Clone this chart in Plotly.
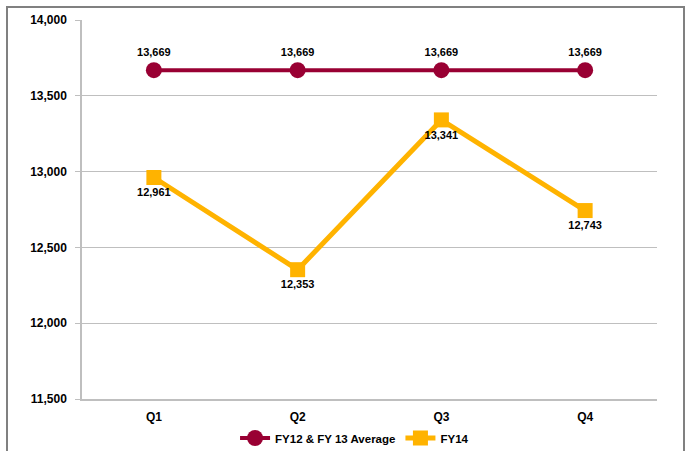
import plotly.graph_objects as go

quarters = ["Q1", "Q2", "Q3", "Q4"]
avg_vals = [13669, 13669, 13669, 13669]
fy14_vals = [12961, 12353, 13341, 12743]
y_ticks = [11500, 12000, 12500, 13000, 13500, 14000]

FONT = "Liberation Sans, Arial, sans-serif"
maroon = "#990033"
orange = "#FFB300"

fig = go.Figure()
fig.add_trace(go.Scatter(
    x=quarters, y=avg_vals, name="FY12 & FY 13 Average",
    mode="lines+markers+text",
    line=dict(color=maroon, width=4),
    marker=dict(symbol="circle", size=16, color=maroon),
    text=[f"{v:,}" for v in avg_vals], textposition="top center",
    textfont=dict(family=FONT, size=11, color="#000000", weight="bold"),
))
fig.add_trace(go.Scatter(
    x=quarters, y=fy14_vals, name="FY14",
    mode="lines+markers+text",
    line=dict(color=orange, width=5),
    marker=dict(symbol="square", size=15, color=orange),
    text=[f"{v:,}" for v in fy14_vals], textposition="bottom center",
    textfont=dict(family=FONT, size=11, color="#000000", weight="bold"),
))

fig.update_layout(
    width=692, height=451,
    margin=dict(l=82, r=35, t=20, b=52, autoexpand=False),
    paper_bgcolor="white", plot_bgcolor="white",
    font=dict(family=FONT, size=12, color="#000000"),
    showlegend=True,
    legend=dict(orientation="h", x=0.474, xanchor="center",
                yref="container", y=13 / 451, yanchor="middle",
                font=dict(family=FONT, size=11.5, color="#000000", weight="bold"),
                itemwidth=30),
    xaxis=dict(type="category", range=[-0.5, 3.5], showgrid=False,
               showline=True, linecolor="#BFBFBF", linewidth=1.5,
               tickfont=dict(family=FONT, size=12, weight="bold"),
               ticks="", ticklabelstandoff=6),
    yaxis=dict(range=[11500, 14000], tickvals=y_ticks,
               tickformat=",", showgrid=True, gridcolor="#BFBFBF", gridwidth=1,
               showline=True, linecolor="#BFBFBF", linewidth=1.5,
               ticks="outside", ticklen=5, tickcolor="#BFBFBF",
               tickfont=dict(family=FONT, size=12, weight="bold"),
               ticklabelstandoff=6, zeroline=False),
    shapes=[dict(type="rect", xref="paper", yref="paper",
                 x0=(7 - 82) / 575, x1=(684 - 82) / 575,
                 y0=(399 - 470) / 379, y1=(399 - 7) / 379,
                 line=dict(color="#808080", width=2), layer="below")],
)

fig.write_html("out.html")
